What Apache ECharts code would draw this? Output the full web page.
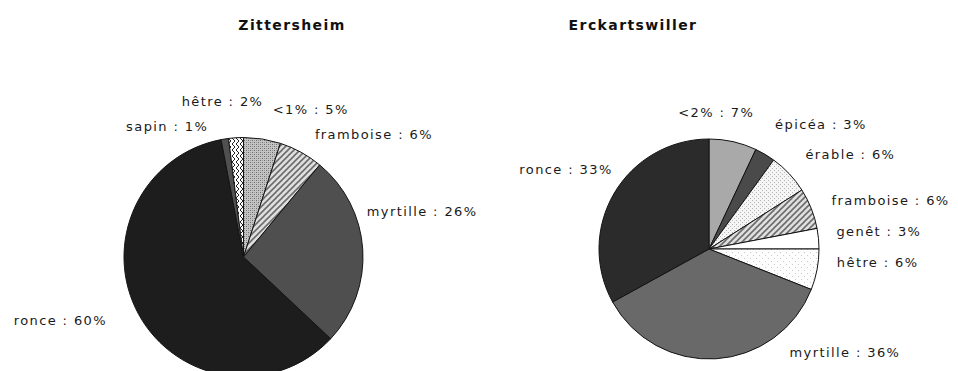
<!DOCTYPE html>
<html>
<head>
<meta charset="utf-8">
<script src="https://cdn.jsdelivr.net/npm/echarts@6/dist/echarts.min.js"></script>
<style>
  html, body { margin: 0; padding: 0; background: #fff; }
  #chart { width: 958px; height: 371px; }
  #chart svg text { letter-spacing: 1.4px; }
</style>
</head>
<body>
<div id="chart"></div>
<script>
// Ground-vegetation composition at two sites (percent of cover)
const titles = ['Zittersheim', 'Erckartswiller'];

const zittNames = ['<1%', 'framboise', 'myrtille', 'ronce', 'sapin', 'hêtre'];
const zittValues = [5, 6, 26, 60, 1, 2];

const erckNames = ['<2%', 'épicéa', 'érable', 'framboise', 'genêt', 'hêtre', 'myrtille', 'ronce'];
const erckValues = [7, 3, 6, 6, 3, 6, 36, 33];

// ---- fill patterns drawn on small tiles ----
function tile(w, h, draw) {
  const c = document.createElement('canvas');
  c.width = w; c.height = h;
  const ctx = c.getContext('2d');
  draw(ctx, w, h);
  return { image: c, repeat: 'repeat', imageWidth: w, imageHeight: h };
}
const dotsGrey = tile(4, 4, (g) => {
  g.fillStyle = '#c4c4c4'; g.fillRect(0, 0, 4, 4);
  g.fillStyle = '#6a6a6a';
  g.fillRect(0, 0, 1, 1); g.fillRect(2, 2, 1, 1);
  g.fillStyle = '#9a9a9a';
  g.fillRect(2, 0, 1, 1); g.fillRect(0, 2, 1, 1);
});
const stripes = tile(6, 6, (g) => {
  g.fillStyle = '#e0e0e0'; g.fillRect(0, 0, 6, 6);
  g.strokeStyle = '#6c6c6c'; g.lineWidth = 1.6;
  [[-3, 3, 3, -3], [0, 6, 6, 0], [3, 9, 9, 3]].forEach(([a, b, c, d]) => {
    g.beginPath(); g.moveTo(a, b); g.lineTo(c, d); g.stroke();
  });
});
const zigzag = tile(4, 6, (g) => {
  g.fillStyle = '#ffffff'; g.fillRect(0, 0, 4, 6);
  g.strokeStyle = '#222'; g.lineWidth = 1;
  g.beginPath(); g.moveTo(0, 0); g.lineTo(3, 3); g.lineTo(0, 6); g.stroke();
});
const dotsLight = tile(4, 4, (g) => {
  g.fillStyle = '#f5f5f5'; g.fillRect(0, 0, 4, 4);
  g.fillStyle = '#b4b4b4'; g.fillRect(0, 0, 1, 1); g.fillRect(2, 2, 1, 1);
});
const dotsFaint = tile(6, 6, (g) => {
  g.fillStyle = '#fdfdfd'; g.fillRect(0, 0, 6, 6);
  g.fillStyle = '#cacaca'; g.fillRect(0, 0, 1, 1); g.fillRect(3, 3, 1, 1);
});

const zittFills = [dotsGrey, stripes, '#4f4f4f', '#1d1d1d', '#505050', zigzag];
const erckFills = ['#a9a9a9', '#4a4a4a', dotsLight, stripes, '#ffffff', dotsFaint, '#696969', '#2b2b2b'];

// label offsets from the default outside position, [dx, dy]
const zittNudge = [[4, -20], [4, -9], [-11, -37], [-18, 1], [-10, -3], [33, -26]];
const erckNudge = [[-62, -19], [0, -21], [4, -12], [6, -4], [3, -6], [5, -9], [68, -16], [12, -18]];

const FONT = 'DejaVu Sans';

function pieSeries(names, values, fills, nudge, center, radius) {
  return {
    type: 'pie',
    center: center,
    radius: radius,
    startAngle: 90,
    clockwise: true,
    animation: false,
    silent: true,
    avoidLabelOverlap: false,
    data: names.map((n, i) => ({ name: n, value: values[i], itemStyle: { color: fills[i] } })),
    itemStyle: { borderColor: '#141414', borderWidth: 1 },
    label: {
      show: true,
      position: 'outside',
      formatter: '{b} : {c}%',
      fontFamily: FONT,
      fontSize: 13,
      color: '#1a1a1a',
      distanceToLabelLine: 5
    },
    labelLine: { show: false, length: 10, length2: 0 },
    labelLayout: (p) => ({ dx: nudge[p.dataIndex][0], dy: nudge[p.dataIndex][1] }),
    emphasis: { disabled: true }
  };
}

const chart = echarts.init(document.getElementById('chart'), null, { renderer: 'svg' });
chart.setOption({
  backgroundColor: '#ffffff',
  animation: false,
  title: [
    { text: titles[0], left: 292, top: 18, textAlign: 'center', padding: 0,
      textStyle: { fontFamily: FONT, fontWeight: 'bold', fontSize: 14, color: '#111' } },
    { text: titles[1], left: 633, top: 18, textAlign: 'center', padding: 0,
      textStyle: { fontFamily: FONT, fontWeight: 'bold', fontSize: 14, color: '#111' } }
  ],
  series: [
    pieSeries(zittNames, zittValues, zittFills, zittNudge, [243.5, 257], 119.5),
    pieSeries(erckNames, erckValues, erckFills, erckNudge, [709, 249], 110)
  ]
});
</script>
</body>
</html>
